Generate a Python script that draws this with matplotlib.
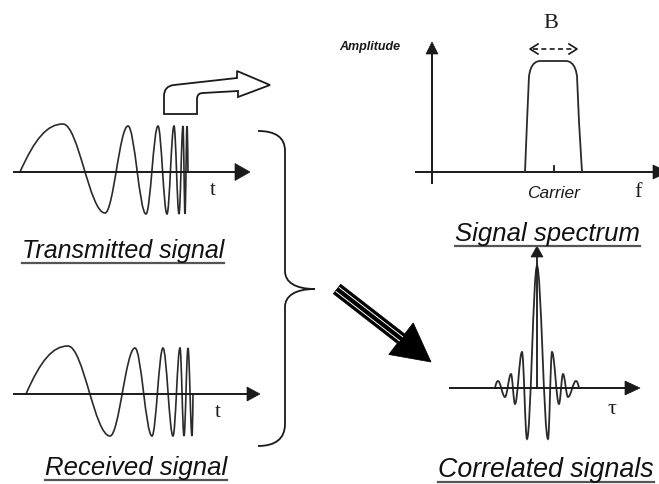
import matplotlib
matplotlib.use('Agg')
import matplotlib.pyplot as plt
from matplotlib.path import Path
from matplotlib.patches import PathPatch, FancyArrow, Polygon
import matplotlib.transforms as mtransforms

# ---------------- data ----------------
# transmitted chirp: extremum times / amplitudes (relative to its own time axis)
tx_time = [7, 50, 92, 115, 133, 145, 154, 161, 166, 170, 172, 174, 175]
tx_amp = [0, 48, -41, 46, -42, 46, -42, 46, -42, 46, -42, 46, 0]
# received chirp
rx_time = [13, 55, 97, 122, 139, 150, 160, 167, 171, 175, 179, 180]
rx_amp = [0, 48, -42, 46, -42, 46, -42, 46, -42, 46, -42, 0]
# correlation output: lag / value at extrema
corr_lag = [-42, -39, -32, -26, -22, -15, -10, 0, 11, 15, 22, 26, 31, 39, 42]
corr_val = [0, 7, -9, 14, -16, 36, -51, 122, -51, 36, -16, 14, -9, 7, 0]
# signal spectrum outline
spec_f = [93, 95, 97, 98, 99.5, 101.5, 104, 107, 135, 138, 140.5, 142.5, 144, 145, 147, 150]
spec_a = [0, 50, 96, 101, 105, 108, 110, 111, 111, 110, 108, 105, 101, 96, 50, 0]
carrier_f = 122

labels = ["Transmitted signal", "Received signal", "Signal spectrum", "Correlated signals"]

# ---------------- figure ----------------
W, H = 659, 485
fig = plt.figure(figsize=(W / 100, H / 100), dpi=100)
ax = fig.add_axes([0, 0, 1, 1])
ax.set_xlim(0, W)
ax.set_ylim(H, 0)
ax.axis('off')

INK = '#1a1a1a'
WAVE = '#2a2a2a'


def panel(x0, y0):
    return mtransforms.Affine2D().scale(1, -1).translate(x0, y0) + ax.transData


def wave_path(ts, vs):
    verts = [(ts[0], vs[0])]
    codes = [Path.MOVETO]
    n = len(ts)
    for i in range(n - 1):
        x0, y0, x1, y1 = ts[i], vs[i], ts[i + 1], vs[i + 1]
        dx, dy = x1 - x0, y1 - y0
        if i == 0 and y0 == 0:
            c1 = (x0 + 0.35 * dx, y0 + 0.7 * dy)
        else:
            c1 = (x0 + 0.3642 * dx, y0)
        if i == n - 2 and y1 == 0:
            c2 = (x1 - 0.35 * dx, y1 - 0.7 * dy)
        else:
            c2 = (x1 - 0.3642 * dx, y1)
        verts += [c1, c2, (x1, y1)]
        codes += [Path.CURVE4] * 3
    return Path(verts, codes)


def axis_arrow(x0, y0, x1, y1, hl, hw, lw=1.4, tr=None):
    tr = tr or ax.transData
    import math
    L = math.hypot(x1 - x0, y1 - y0)
    ux, uy = (x1 - x0) / L, (y1 - y0) / L
    bx, by = x1 - ux * hl, y1 - uy * hl
    ax.plot([x0, bx], [y0, by], color=INK, lw=lw, transform=tr, solid_capstyle='butt')
    nx, ny = -uy, ux
    ax.add_patch(Polygon([(x1, y1), (bx + nx * hw / 2, by + ny * hw / 2),
                          (bx - nx * hw / 2, by - ny * hw / 2)], closed=True,
                         facecolor=INK, edgecolor=INK, lw=0.5, transform=tr))


# ---- transmitted signal ----
tr_tx = panel(13, 173)
axis_arrow(0, 0, 237, 0, 15, 17, tr=tr_tx)
ax.add_patch(PathPatch(wave_path(tx_time, tx_amp), fill=False, edgecolor=WAVE, lw=1.2, transform=tr_tx))
ax.text(213, 191, 't', family='Liberation Serif', fontsize=15, color=INK, ha='center', va='center')

# ---- received signal ----
tr_rx = panel(13, 395)
axis_arrow(0, 0, 247, 0, 13, 14, tr=tr_rx)
ax.add_patch(PathPatch(wave_path(rx_time, rx_amp), fill=False, edgecolor=WAVE, lw=1.2, transform=tr_rx))
ax.text(218, 413, 't', family='Liberation Serif', fontsize=15, color=INK, ha='center', va='center')

# ---- correlated ----
tr_c = panel(537, 389)
axis_arrow(-88, 0, 103, 0, 15, 14, tr=tr_c)
axis_arrow(0, 0, 0, 142, 11, 12, lw=1.3, tr=tr_c)
ax.add_patch(PathPatch(wave_path(corr_lag, corr_val), fill=False, edgecolor=WAVE, lw=1.3, transform=tr_c))
ax.text(612, 410, 'τ', family='Liberation Serif', fontsize=16, color=INK, ha='center', va='center')

# ---- spectrum ----
tr_s = panel(432, 173)
axis_arrow(-17, 0, 236, 0, 15, 14, tr=tr_s)
axis_arrow(0, -12, 0, 130, 12, 12, tr=tr_s)
ax.plot(spec_f, spec_a, color=WAVE, lw=1.3, transform=tr_s)
ax.plot([carrier_f, carrier_f], [0, 6], color=INK, lw=1.3, transform=tr_s)
ax.text(553, 194, 'Carrier', family='Liberation Sans', style='italic', fontsize=12.5,
        color=INK, ha='center', va='center')
ax.text(638, 193, 'f', family='Liberation Serif', fontsize=16, color=INK, ha='center', va='center')
ax.text(400, 47, 'Amplitude', family='Liberation Sans', style='italic', weight='bold',
        fontsize=9, color=INK, ha='right', va='center')
# bandwidth B
ax.plot([533, 574], [50, 50], color=INK, lw=1.2, ls=(0, (3, 2)))
ax.plot([538, 530, 538], [45, 50, 55], color=INK, lw=1.2)
ax.plot([569, 577, 569], [45, 50, 55], color=INK, lw=1.2)
ax.text(551, 23, 'B', family='Liberation Serif', fontsize=16, color=INK, ha='center', va='center')

# ---- bent arrow ----
bent = Path([(164, 115), (164, 97), (164, 87), (174, 86), (237, 79), (237, 72), (270, 86),
             (238, 98), (238, 92), (203, 94), (197, 94), (197, 100), (197, 115), (164, 115)],
            [Path.MOVETO, Path.LINETO, Path.CURVE3, Path.CURVE3, Path.LINETO, Path.LINETO,
             Path.LINETO, Path.LINETO, Path.LINETO, Path.LINETO, Path.CURVE3, Path.CURVE3,
             Path.LINETO, Path.CLOSEPOLY])
ax.add_patch(PathPatch(bent, facecolor='white', edgecolor=INK, lw=1.3))

# ---- brace ----
brace = Path([(258, 132), (275, 132), (285, 138), (285, 152), (285, 272),
              (285, 283), (295, 290), (315, 290), (295, 290), (285, 297), (285, 308),
              (285, 425), (285, 440), (275, 447), (258, 447)],
             [Path.MOVETO, Path.CURVE4, Path.CURVE4, Path.CURVE4, Path.LINETO,
              Path.CURVE4, Path.CURVE4, Path.CURVE4, Path.CURVE4, Path.CURVE4, Path.CURVE4,
              Path.LINETO, Path.CURVE4, Path.CURVE4, Path.CURVE4])
ax.add_patch(PathPatch(brace, fill=False, edgecolor=INK, lw=1.3))

# ---- thick arrow ----
ax0, ay0, adx, ady = 337, 290, 94, 73
ax.add_patch(FancyArrow(ax0, ay0, adx, ady, width=12, head_width=40, head_length=38,
                        length_includes_head=True, facecolor='black', edgecolor='black', lw=0.5))
import math
L = math.hypot(adx, ady)
ux, uy = adx / L, ady / L
nx, ny = -uy, ux
shaft = L - 38
for off in (-2.6, 2.6):
    ax.plot([ax0 + nx * off + ux * 1, ax0 + nx * off + ux * shaft],
            [ay0 + ny * off + uy * 1, ay0 + ny * off + uy * shaft], color='white', lw=0.7)

# ---- titles with underline ----
title_pos = [(22, 258), (45, 475), (455, 241), (438, 477)]
title_size = [18, 18.5, 18.5, 19.3]
texts = []
for lab, (x, y), fs in zip(labels, title_pos, title_size):
    texts.append(ax.text(x, y, lab, family='Liberation Sans', style='italic', fontsize=fs,
                         color='#111111', ha='left', va='baseline'))
fig.canvas.draw()
r = fig.canvas.get_renderer()
inv = ax.transData.inverted()
for t, (x, y) in zip(texts, title_pos):
    bb = t.get_window_extent(r)
    xa = inv.transform((bb.x0, 0))[0]
    xb = inv.transform((bb.x1, 0))[0]
    ax.plot([xa, xb], [y + 6, y + 6], color='#555555', lw=1.6)

fig.savefig('out.png', dpi=100, facecolor='white')
